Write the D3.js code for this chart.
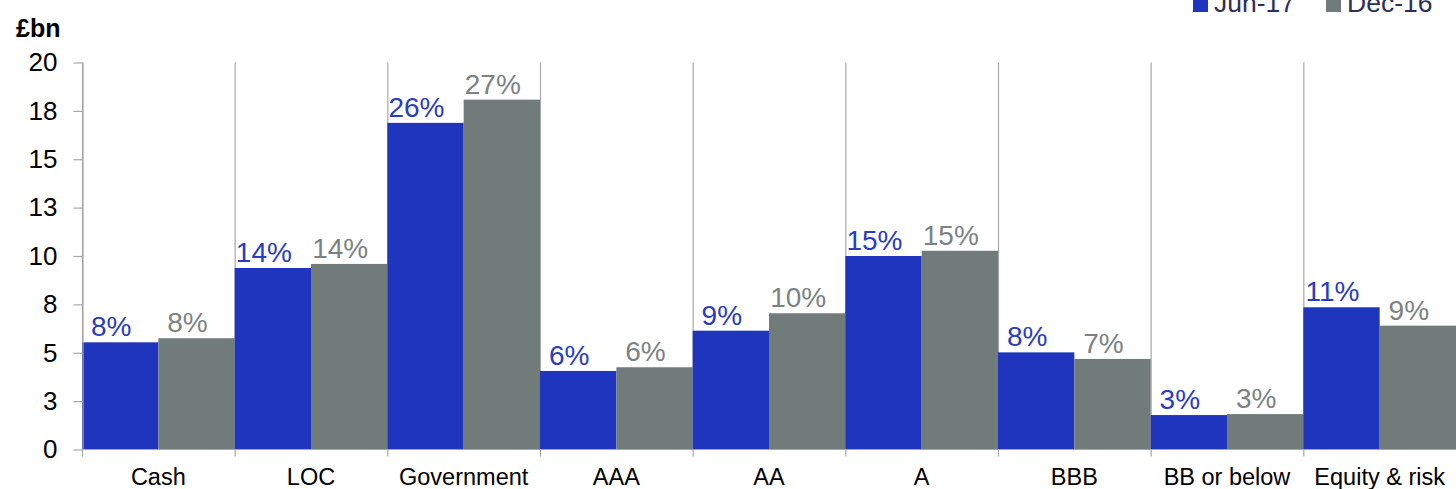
<!DOCTYPE html>
<html>
<head>
<meta charset="utf-8">
<script src="https://cdn.jsdelivr.net/npm/d3@7"></script>
<style>
  html, body { margin: 0; padding: 0; background: #fff; }
  svg { display: block; font-family: "Liberation Sans", Arial, sans-serif; }
</style>
</head>
<body>
<svg id="chart" width="1456" height="489"></svg>
<script>
// Holdings by asset class, £bn
const categories = ["Cash", "LOC", "Government", "AAA", "AA", "A", "BBB", "BB or below", "Equity & risk"];
const seriesNames = ["Jun-17", "Dec-16"];
const jun17 = [5.54, 9.38, 16.88, 4.06, 6.14, 10.0, 5.02, 1.78, 7.35];
const dec16 = [5.75, 9.59, 18.08, 4.25, 7.04, 10.27, 4.68, 1.83, 6.40];
const jun17Share = ["8%", "14%", "26%", "6%", "9%", "15%", "8%", "3%", "11%"];
const dec16Share = ["8%", "14%", "27%", "6%", "10%", "15%", "7%", "3%", "9%"];
const tickValues = [0, 2.5, 5, 7.5, 10, 12.5, 15, 17.5, 20];
const tickLabels = ["0", "3", "5", "8", "10", "13", "15", "18", "20"];

const colors = { "Jun-17": "#1f35bd", "Dec-16": "#717b7a" };
const labelColors = { "Jun-17": "#2a3cc0", "Dec-16": "#7b8381" };
const gridColor = "#a8a8a8";

const svg = d3.select("#chart");
const plotLeft = 82, plotRight = 1456, plotTop = 62.5, plotBottom = 449.5;

const x = d3.scaleBand().domain(categories).range([plotLeft, plotRight]).padding(0);
const xs = d3.scaleBand().domain(seriesNames).range([0, x.bandwidth()]).padding(0);
const y = d3.scaleLinear().domain([0, 20]).range([plotBottom, plotTop]);

// category separators (run from the top of the plot down past the baseline)
svg.append("g").selectAll("line")
  .data(categories)
  .join("line")
  .attr("x1", d => x(d) + 0.5).attr("x2", d => x(d) + 0.5)
  .attr("y1", plotTop).attr("y2", plotBottom + 7)
  .attr("stroke", gridColor).attr("stroke-width", 1.2);

// bars
const rows = categories.map((c, i) => ({
  cat: c,
  vals: [
    { s: "Jun-17", v: jun17[i], lab: jun17Share[i] },
    { s: "Dec-16", v: dec16[i], lab: dec16Share[i] }
  ]
}));

const groups = svg.append("g").selectAll("g")
  .data(rows)
  .join("g")
  .attr("transform", d => `translate(${x(d.cat)},0)`);

groups.selectAll("rect")
  .data(d => d.vals)
  .join("rect")
  .attr("x", d => xs(d.s))
  .attr("width", xs.bandwidth())
  .attr("y", d => y(d.v))
  .attr("height", d => y(0) - y(d.v))
  .attr("fill", d => colors[d.s]);

groups.selectAll("text")
  .data(d => d.vals)
  .join("text")
  .attr("x", d => xs(d.s) + xs.bandwidth() / 2 - 9)
  .attr("y", d => y(d.v) - 6)
  .attr("text-anchor", "middle")
  .attr("font-size", 28)
  .attr("fill", d => labelColors[d.s])
  .text(d => d.lab);

// y axis
const yAxis = d3.axisLeft(y)
  .tickValues(tickValues)
  .tickFormat((d, i) => tickLabels[i])
  .tickSizeInner(9)
  .tickSizeOuter(0)
  .tickPadding(16);
const gy = svg.append("g").attr("transform", `translate(${plotLeft + 0.5},0)`).call(yAxis);
gy.select(".domain").attr("stroke", gridColor).attr("stroke-width", 1.2);
gy.selectAll(".tick line").attr("stroke", gridColor).attr("stroke-width", 1.2);
gy.selectAll(".tick text")
  .attr("font-size", 26)
  .attr("font-family", "Liberation Sans, Arial, sans-serif")
  .attr("fill", "#000");

// x axis baseline and category labels
svg.append("line")
  .attr("x1", plotLeft).attr("x2", plotRight)
  .attr("y1", y(0)).attr("y2", y(0))
  .attr("stroke", gridColor).attr("stroke-width", 1.2);

svg.append("g").selectAll("text")
  .data(categories)
  .join("text")
  .attr("x", d => x(d) + x.bandwidth() / 2)
  .attr("y", 485)
  .attr("text-anchor", "middle")
  .attr("font-size", 23.5)
  .attr("fill", "#000")
  .text(d => d);

// unit label
svg.append("text")
  .attr("x", 16).attr("y", 37)
  .attr("font-size", 25)
  .attr("font-weight", "bold")
  .attr("fill", "#000")
  .text("£bn");

// legend
const legendX = { "Jun-17": 1193, "Dec-16": 1326 };
const lg = svg.append("g").selectAll("g")
  .data(seriesNames)
  .join("g")
  .attr("transform", d => `translate(${legendX[d]},0)`);
lg.append("rect")
  .attr("x", 0).attr("y", -3).attr("width", 15).attr("height", 15)
  .attr("fill", d => colors[d]);
lg.append("text")
  .attr("x", 21).attr("y", 12)
  .attr("font-size", 26.5)
  .attr("fill", "#2b2f57")
  .text(d => d);
</script>
</body>
</html>
